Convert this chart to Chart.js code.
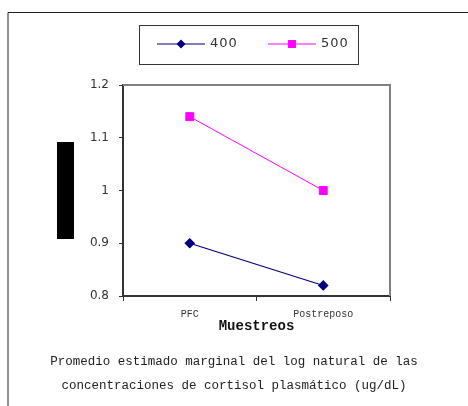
<!DOCTYPE html>
<html>
<head>
<meta charset="utf-8">
<script src="https://cdn.jsdelivr.net/npm/chart.js"></script>
<style>
  html, body { margin: 0; padding: 0; background: #fff; }
  #wrap { position: relative; width: 468px; height: 406px; }
</style>
</head>
<body>
<div id="wrap"><canvas id="myChart" width="468" height="406"></canvas></div>
<script>
const categories = ['PFC', 'Postreposo']
const series400 = [0.90, 0.82]
const series500 = [1.14, 1.0]
const seriesNames = ['400', '500']
const yTicks = [0.8, 0.9, 1, 1.1, 1.2]
const yTickLabels = ['0.8', '0.9', '1', '1.1', '1.2']
const xTitle = 'Muestreos'
const caption = ['Promedio estimado marginal del log natural de las', 'concentraciones de cortisol plasmático (ug/dL)']

// frame, legend box, grey plot border and the black block on the left
const decorations = {
  id: 'decorations',
  afterDraw(chart) {
    const c = chart.ctx
    const a = chart.chartArea
    c.save()

    c.strokeStyle = '#222'
    c.lineWidth = 1
    c.beginPath()
    c.moveTo(8, 406)
    c.lineTo(8, 12.5)
    c.lineTo(468, 12.5)
    c.stroke()

    c.strokeStyle = '#808080'
    c.lineWidth = 2
    c.beginPath()
    c.moveTo(a.left, a.top)
    c.lineTo(a.right, a.top)
    c.lineTo(a.right, a.bottom)
    c.stroke()

    c.fillStyle = '#000'
    c.fillRect(57, 142, 17, 97)

    c.strokeStyle = '#333'
    c.lineWidth = 1
    c.strokeRect(139.5, 25.5, 219, 39)

    chart.data.datasets.forEach((ds, i) => {
      const x0 = 157 + i * 111
      const y = 44
      c.strokeStyle = ds.borderColor
      c.lineWidth = ds.borderWidth
      c.beginPath()
      c.moveTo(x0, y)
      c.lineTo(x0 + 48, y)
      c.stroke()
      c.fillStyle = ds.backgroundColor
      const mx = x0 + 24
      if (ds.pointStyle === 'rectRot') {
        const r = ds.pointRadius
        c.beginPath()
        c.moveTo(mx, y - r)
        c.lineTo(mx + r, y)
        c.lineTo(mx, y + r)
        c.lineTo(mx - r, y)
        c.closePath()
        c.fill()
      } else {
        const s = ds.pointRadius * Math.SQRT1_2
        c.fillRect(mx - s, y - s, 2 * s, 2 * s)
      }
      c.fillStyle = '#333'
      c.font = '13px "DejaVu Sans"'
      c.letterSpacing = '1px'
      c.textBaseline = 'middle'
      c.textAlign = 'left'
      c.fillText(ds.label, x0 + 53, y)
    })
    c.restore()
  }
}

const ctx = document.getElementById('myChart')

new Chart(ctx, {
  type: 'line',
  data: {
    labels: categories,
    datasets: [
      {
        label: seriesNames[0],
        data: series400,
        borderColor: '#000080',
        backgroundColor: '#000080',
        pointStyle: 'rectRot',
        pointRadius: 4.5,
        borderWidth: 1.2,
        tension: 0
      },
      {
        label: seriesNames[1],
        data: series500,
        borderColor: '#FF00FF',
        backgroundColor: '#FF00FF',
        pointStyle: 'rect',
        pointRadius: 5.6,
        borderWidth: 1,
        tension: 0
      }
    ]
  },
  options: {
    responsive: false,
    animation: false,
    devicePixelRatio: 1,
    layout: { padding: { top: 85, right: 0, left: 0, bottom: 0 } },
    plugins: {
      legend: { display: false },
      tooltip: { enabled: false },
      title: {
        display: true,
        position: 'bottom',
        text: caption,
        color: '#222',
        font: { family: 'Liberation Mono', size: 12.5, weight: 'normal', lineHeight: 1.92 },
        padding: { top: 10, bottom: 8 }
      }
    },
    scales: {
      x: {
        offset: true,
        grid: { offset: true, drawOnChartArea: false, tickLength: 5, color: '#333' },
        border: { color: '#333', width: 2 },
        ticks: { font: { family: 'Liberation Mono', size: 10 }, color: '#333', padding: 7, maxRotation: 0 },
        title: {
          display: true,
          text: xTitle,
          color: '#111',
          font: { family: 'Liberation Mono', size: 14, weight: 'bold' },
          padding: { top: 0, bottom: 5 }
        },
        afterFit(s) { s.height = 44 }
      },
      y: {
        min: 0.8,
        max: 1.2,
        afterBuildTicks(s) { s.ticks = yTicks.map(v => ({ value: v })) },
        ticks: {
          callback: (v, i) => yTickLabels[i],
          font: { family: 'DejaVu Sans', size: 12 },
          color: '#333',
          padding: 10
        },
        grid: { drawOnChartArea: false, tickLength: 4, color: '#333' },
        border: { color: '#333', width: 2 },
        afterFit(s) { s.width = 123 }
      },
      // empty spacer so the plot ends at x=390 while the caption stays centred on the page
      yRight: {
        position: 'right',
        display: true,
        grid: { display: false },
        border: { display: false },
        ticks: { display: false },
        afterFit(s) { s.width = 78 }
      }
    }
  },
  plugins: [decorations]
})
</script>
</body>
</html>
